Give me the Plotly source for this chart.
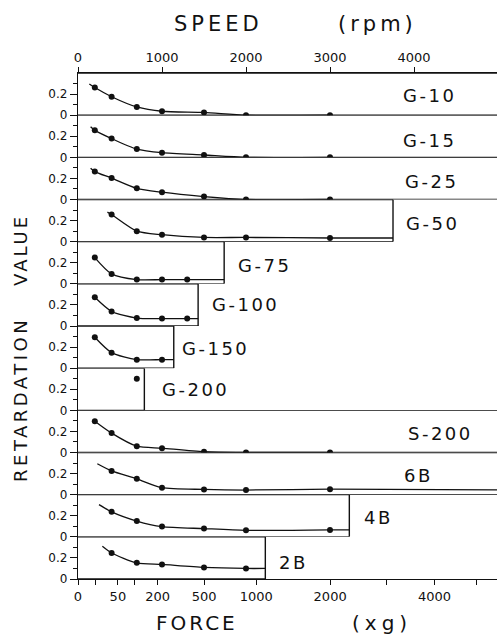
import math
import plotly.graph_objects as go
from plotly.subplots import make_subplots

# ---------------- data ----------------
panel_names = ["G-10", "G-15", "G-25", "G-50", "G-75", "G-100",
               "G-150", "G-200", "S-200", "6B", "4B", "2B"]

speeds_7 = [200, 400, 700, 1000, 1500, 2000, 3000]
speeds_b = [400, 700, 1000, 1500, 2000, 3000]
speeds_g75 = [200, 400, 700, 1000, 1300]
speeds_g150 = [200, 400, 700, 1000]
speeds_g200 = [700]
speeds_2b = [400, 700, 1000, 1500, 2000]

g10_value = [0.262, 0.175, 0.078, 0.037, 0.026, 0.0, 0.0]
g15_value = [0.256, 0.178, 0.078, 0.044, 0.022, 0.0, 0.0]
g25_value = [0.265, 0.203, 0.106, 0.069, 0.028, 0.0, 0.0]
g50_value = [0.257, 0.100, 0.066, 0.040, 0.040, 0.035]
g75_value = [0.249, 0.094, 0.040, 0.040, 0.040]
g100_value = [0.272, 0.138, 0.075, 0.070, 0.070]
g150_value = [0.293, 0.147, 0.081, 0.081]
g200_value = [0.300]
s200_value = [0.297, 0.184, 0.060, 0.041, 0.007, 0.0, 0.0]
b6_value = [0.225, 0.150, 0.066, 0.050, 0.044, 0.052]
b4_value = [0.237, 0.150, 0.097, 0.078, 0.062, 0.066]
b2_value = [0.247, 0.153, 0.138, 0.110, 0.100]

# where the drawn fitted curve starts / ends (None = at first / last dot)
fit_start_speed = [135, 150, 150, 350, None, None, None, None, None, 230, 250, 290]
fit_start_value = [0.296, 0.290, 0.297, 0.280, None, None, None, None, None, 0.293, 0.305, 0.310]
fit_end_speed = [None, None, None, 3750, 1740, 1430, 1140, None, None, 4988, 3230, 2230]
fit_end_value = [None, None, None, 0.035, 0.040, 0.070, 0.081, None, None, 0.045, 0.066, 0.100]

# maximum speed of each gel (right edge of its box, None = runs off the chart)
box_speed = [None, None, None, 3750, 1740, 1430, 1140, 790, None, None, 3230, 2230]

speed_ticks = [0, 1000, 2000, 3000, 4000]
force_labeled = [0, 50, 200, 500, 1000, 2000, 4000]
force_unlabeled = [10, 100, 3000, 5000]
FORCE_PER_RPM2 = 2.22e-4          # relative centrifugal force = k * rpm^2

# ---------------- layout constants ----------------
SPEED_MAX = 4988
FONT = "DejaVu Sans"
INK = "#111111"

series = [
    (speeds_7, g10_value), (speeds_7, g15_value), (speeds_7, g25_value),
    (speeds_b, g50_value), (speeds_g75, g75_value), (speeds_g75, g100_value),
    (speeds_g150, g150_value), (speeds_g200, g200_value), (speeds_7, s200_value),
    (speeds_b, b6_value), (speeds_b, b4_value), (speeds_2b, b2_value),
]
label_pos = [(4185, 0.183), (4185, 0.164), (4214, 0.168), (4226, 0.177),
             (2226, 0.174), (1988, 0.203), (1631, 0.183), (1393, 0.193),
             (4321, 0.177), (4048, 0.183), (3583, 0.183), (2560, 0.161)]

n = len(panel_names)
fig = make_subplots(rows=n, cols=1, shared_xaxes=True, vertical_spacing=0)

def ax(kind, r):
    return kind if r == 1 else f"{kind}{r}"

shapes = []
annotations = []
for i, name in enumerate(panel_names):
    r = i + 1
    xs, ys = series[i]
    # fitted curve
    if len(xs) > 1:
        cx = list(xs)
        cy = list(ys)
        if fit_start_speed[i] is not None:
            cx = [fit_start_speed[i]] + cx
            cy = [fit_start_value[i]] + cy
        if fit_end_speed[i] is not None:
            cx = cx + [fit_end_speed[i]]
            cy = cy + [fit_end_value[i]]
        fig.add_trace(go.Scatter(x=cx, y=cy, mode="lines",
                                 line=dict(color=INK, width=1.3, shape="spline", smoothing=0.7),
                                 hoverinfo="skip", showlegend=False), row=r, col=1)
    fig.add_trace(go.Scatter(x=xs, y=ys, mode="markers",
                             marker=dict(color=INK, size=6),
                             name=name, showlegend=False), row=r, col=1)
    # panel box
    w = box_speed[i] if box_speed[i] is not None else SPEED_MAX
    xr, yr = ax("x", r), ax("y", r)
    lw = dict(color=INK, width=1.4)
    shapes.append(dict(type="line", xref=xr, yref=yr, x0=0, x1=w, y0=0, y1=0, line=lw))
    shapes.append(dict(type="line", xref=xr, yref=yr, x0=0, x1=w, y0=0.4, y1=0.4, line=lw))
    if box_speed[i] is not None:
        shapes.append(dict(type="line", xref=xr, yref=yr, x0=w, x1=w, y0=0, y1=0.4, line=lw))
    lx, ly = label_pos[i]
    annotations.append(dict(xref=xr, yref=yr, x=lx, y=ly, showarrow=False,
                            xanchor="center", yanchor="middle",
                            text=f'<span style="letter-spacing:2.5px">{name}</span>',
                            font=dict(family=FONT, size=18, color=INK)))
    fig.update_yaxes(row=r, col=1, range=[0, 0.4], tickmode="array",
                     tickvals=[0, 0.2], ticktext=["0", "0.2"],
                     ticks="outside", ticklen=7, tickwidth=1.2, tickcolor=INK,
                     showline=True, linecolor=INK, linewidth=1.4,
                     showgrid=False, zeroline=False, fixedrange=True,
                     minor=dict(tickmode="array", tickvals=[0.1, 0.3],
                                ticks="outside", ticklen=4, tickwidth=1.1, tickcolor=INK),
                     tickfont=dict(family=FONT, size=12, color=INK))
    fig.update_xaxes(row=r, col=1, range=[0, SPEED_MAX], showgrid=False,
                     zeroline=False, showticklabels=False, ticks="", showline=False)

# top speed axis
fig.update_xaxes(row=1, col=1, side="top", showticklabels=True, tickmode="array",
                 tickvals=speed_ticks, ticktext=[str(v) for v in speed_ticks],
                 ticks="outside", ticklen=5, tickwidth=1.2, tickcolor=INK,
                 showline=True, linecolor=INK, linewidth=1.4,
                 tickfont=dict(family=FONT, size=13, color=INK))

# bottom force axis (positions via the speed scale)
f_all = force_labeled + force_unlabeled
f_pos = [math.sqrt(f / FORCE_PER_RPM2) for f in f_all]
f_txt = [str(f) for f in force_labeled] + ["" for _ in force_unlabeled]
fig.update_xaxes(row=n, col=1, side="bottom", showticklabels=True, tickmode="array",
                 tickvals=f_pos, ticktext=f_txt,
                 ticks="outside", ticklen=5, tickwidth=1.2, tickcolor=INK,
                 showline=True, linecolor=INK, linewidth=1.4,
                 tickfont=dict(family=FONT, size=13, color=INK))

# axis titles
def paper_y(py):
    return (579 - py) / 506.0

common = dict(showarrow=False, xanchor="center", yanchor="middle")
annotations += [
    dict(xref="x", yref="paper", x=1667, y=paper_y(23.5),
         text='<span style="letter-spacing:4px">SPEED</span>',
         font=dict(family=FONT, size=21, color=INK), **common),
    dict(xref="x", yref="paper", x=3571, y=paper_y(23.5),
         text='<span style="letter-spacing:4px">(rpm)</span>',
         font=dict(family=FONT, size=21, color=INK), **common),
    dict(xref="x", yref="paper", x=1417, y=paper_y(623),
         text='<span style="letter-spacing:3px">FORCE</span>',
         font=dict(family=FONT, size=20, color=INK), **common),
    dict(xref="x", yref="paper", x=3619, y=paper_y(623),
         text='<span style="letter-spacing:5px">(xg)</span>',
         font=dict(family=FONT, size=20, color=INK), **common),
    dict(xref="paper", yref="paper", x=(20 - 78) / 419.0, y=paper_y(400),
         textangle=-90, text='<span style="letter-spacing:3.5px">RETARDATION</span>',
         font=dict(family=FONT, size=18, color=INK), **common),
    dict(xref="paper", yref="paper", x=(20 - 78) / 419.0, y=paper_y(250),
         textangle=-90, text='<span style="letter-spacing:3px">VALUE</span>',
         font=dict(family=FONT, size=18, color=INK), **common),
]

fig.update_layout(width=497, height=638, margin=dict(l=78, r=0, t=73, b=59),
                  paper_bgcolor="white", plot_bgcolor="white",
                  shapes=shapes, annotations=annotations,
                  font=dict(family=FONT, color=INK), showlegend=False)

fig.write_html("out.html", config={"displayModeBar": False},
               post_script="document.body.style.margin='0';document.body.style.overflow='hidden';")
